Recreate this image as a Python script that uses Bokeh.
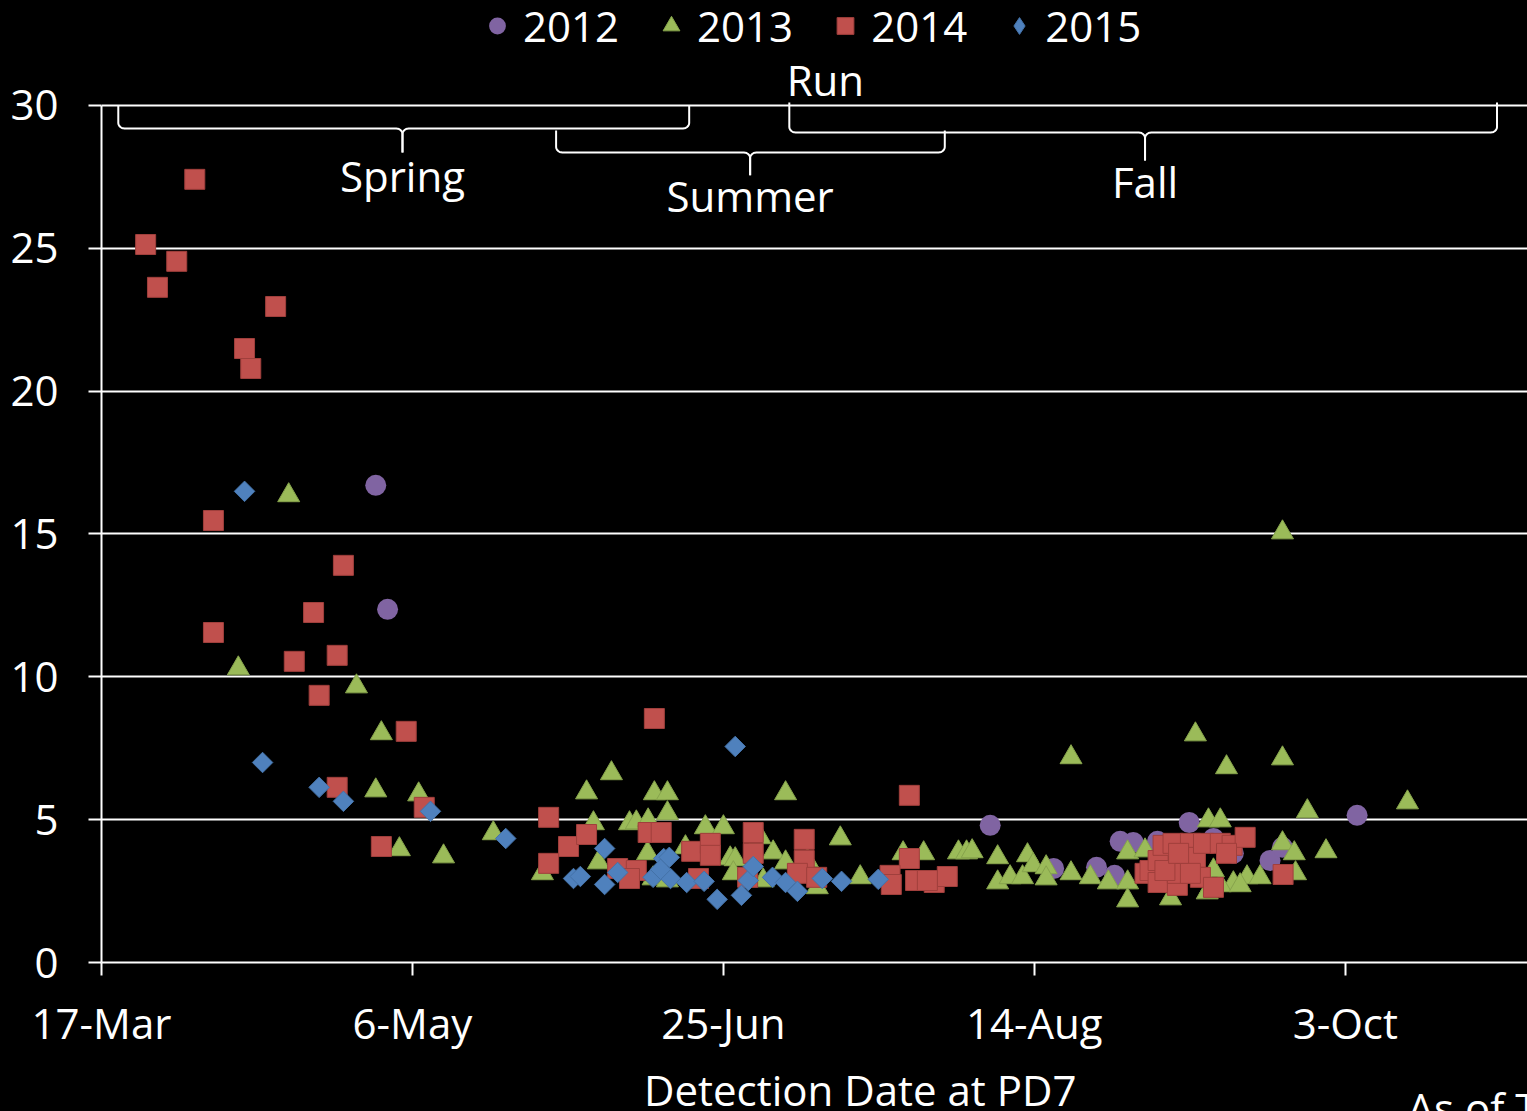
import numpy as np
from bokeh.plotting import figure
from bokeh.layouts import column
from bokeh.models import (FixedTicker, Legend, LegendItem, Label, Range1d,
                          GlobalInlineStyleSheet)
from bokeh.embed import file_html
from bokeh.resources import INLINE

# ---------------- data (x = day of year of detection at PD7) ----------------
tick_doy = [76, 126, 176, 226, 276]
tick_labels = ["17-Mar", "6-May", "25-Jun", "14-Aug", "3-Oct"]
y_ticks = [0, 5, 10, 15, 20, 25, 30]
series_names = ["2012", "2013", "2014", "2015"]

doy_2012 = [120.1, 122.0, 218.9, 229.1, 236.0, 238.9, 239.8, 241.9, 245.8, 250.9,
            254.8, 258.0, 263.9, 265.9, 277.9]
val_2012 = [16.70, 12.36, 4.80, 3.29, 3.33, 3.05, 4.24, 4.20, 4.24, 4.90,
            4.34, 3.82, 3.57, 4.03, 5.15]

doy_2013 = [106.1, 98.0, 117.0, 121.0, 120.1, 127.0, 123.9, 131.0, 139.0, 146.9,
            154.0, 158.0, 155.1, 155.9, 160.9, 162.0, 163.9, 164.9, 167.0, 167.0,
            163.8, 164.7, 167.0, 169.9, 173.1, 176.0, 177.1, 177.9, 177.6, 181.9,
            184.0, 186.0, 182.4, 186.0, 189.5, 191.1, 194.8, 198.0, 204.9, 208.2,
            213.8, 215.1, 216.0, 220.1, 220.1, 222.1, 224.1, 224.9, 225.8, 227.9,
            227.9, 231.9, 231.9, 235.0, 237.9, 241.0, 241.0, 241.0, 243.8, 247.9,
            251.9, 254.0, 255.9, 256.9, 265.9, 265.9, 269.9, 286.0, 265.9, 267.8,
            272.9, 268.0, 260.2, 262.3, 258.0, 254.3, 255.9, 254.8, 253.8, 259.1]
val_2013 = [16.35, 10.29, 9.66, 8.02, 6.02, 5.88, 3.96, 3.71, 4.52, 3.12,
            5.95, 6.62, 4.87, 3.50, 4.87, 4.90, 4.97, 5.92, 5.92, 5.22,
            3.82, 2.94, 2.87, 4.03, 4.73, 4.73, 3.64, 3.61, 3.12, 4.38,
            3.85, 3.50, 2.87, 5.92, 3.57, 2.63, 4.34, 2.98, 3.82, 3.82,
            3.85, 3.85, 3.89, 3.68, 2.80, 2.98, 2.98, 3.75, 3.40, 3.33,
            2.94, 7.18, 3.12, 2.98, 2.80, 3.85, 2.80, 2.17, 3.92, 2.24,
            7.98, 4.97, 4.97, 6.83, 15.05, 7.14, 5.29, 5.60, 4.17, 3.82,
            3.89, 3.12, 2.98, 2.98, 2.77, 2.63, 2.70, 3.22, 2.45, 2.70]

doy_2014 = [91.0, 83.1, 88.1, 85.0, 104.0, 99.0, 100.0, 94.0, 114.9, 110.1,
            94.0, 107.0, 113.9, 111.0, 125.0, 113.9, 127.9, 121.0,
            164.9, 147.9, 151.1, 154.0, 147.9, 159.0, 162.0, 160.9, 163.9, 166.0,
            170.9, 173.9, 173.9, 172.0, 180.8, 180.8, 179.9, 189.0, 189.0, 187.9, 191.0,
            205.9, 205.9, 202.8, 203.0, 206.9, 209.9, 212.0, 208.8,
            243.8, 244.6, 245.9, 245.9, 246.7, 248.3, 249.0, 249.0, 251.1, 251.9,
            252.7, 253.2, 254.8, 255.9, 257.8, 259.9, 266.0, 251.1, 247.0, 249.2, 256.9]
val_2014 = [27.41, 25.13, 24.54, 23.63, 22.96, 21.49, 20.79, 15.47, 13.90, 12.25,
            11.55, 10.54, 10.75, 9.35, 8.09, 6.13, 5.43, 4.06,
            8.54, 5.08, 4.06, 4.48, 3.47, 3.29, 3.22, 2.94, 4.55, 4.55,
            3.89, 4.17, 3.75, 2.94, 4.55, 3.82, 2.98, 4.31, 3.57, 3.12, 2.98,
            5.85, 3.64, 3.05, 2.73, 2.87, 2.80, 3.01, 2.87,
            3.12, 3.22, 2.80, 3.57, 4.10, 4.17, 2.70, 3.12, 4.17, 3.68,
            2.98, 4.17, 2.63, 4.17, 4.10, 4.38, 3.08, 3.12, 3.22, 3.82, 3.82]

doy_2015 = [99.0, 101.9, 111.0, 114.9, 128.9, 141.0, 151.9, 153.0, 156.9, 156.9,
            159.0, 164.7, 166.4, 167.3, 167.5, 165.9, 170.1, 172.9, 175.0, 177.9,
            178.9, 180.0, 180.8, 183.9, 186.0, 187.9, 191.9, 195.0, 200.9]
val_2015 = [16.49, 7.00, 6.13, 5.64, 5.29, 4.34, 2.94, 3.01, 3.99, 2.73,
            3.15, 2.98, 3.64, 3.68, 2.94, 3.26, 2.80, 2.84, 2.21, 7.56,
            2.35, 2.87, 3.36, 2.98, 2.80, 2.49, 2.94, 2.84, 2.91]

# run-timing groups (day-of-year spans shown by the braces)
season_names = ["Spring", "Summer", "Fall"]
season_start = [78.7, 149.1, 186.6]
season_end = [170.5, 211.6, 300.4]
season_mid = [124.4, 180.3, 243.8]

# ---------------- main figure ----------------
FONT = "Open Sans"
FS = "42px"
p = figure(frame_width=1426, frame_height=962,
           min_border_left=101, min_border_right=0, min_border_top=0, min_border_bottom=88,
           x_range=Range1d(76, 305.3), y_range=Range1d(0, 33.67),
           output_backend="svg", toolbar_location=None,
           background_fill_color="black", border_fill_color="black")
p.outline_line_color = None
p.xgrid.visible = False
p.ygrid.grid_line_color = "white"
p.ygrid.grid_line_width = 2
p.ygrid.ticker = FixedTicker(ticks=y_ticks)

for ax in (p.xaxis[0], p.yaxis[0]):
    ax.axis_line_color = "white"
    ax.axis_line_width = 2
    ax.major_tick_line_color = "white"
    ax.major_tick_line_width = 2
    ax.major_tick_out = 13
    ax.major_tick_in = 0
    ax.minor_tick_line_color = None
    ax.major_label_text_font = FONT
    ax.major_label_text_font_size = FS
    ax.major_label_text_color = "white"

p.yaxis[0].ticker = FixedTicker(ticks=y_ticks)
p.yaxis[0].bounds = (0, 30)
p.yaxis[0].major_label_standoff = 30
p.xaxis[0].ticker = FixedTicker(ticks=tick_doy)
p.xaxis[0].major_label_overrides = {d: l for d, l in zip(tick_doy, tick_labels)}
p.xaxis[0].major_label_standoff = 18

# ---------------- braces and run labels ----------------
def brace(x0, x1, xm, ytop, ybar, ytip, rx=1.0, ry=0.2):
    t = np.linspace(0, np.pi / 2, 8)
    lx = [x0] + list(x0 + rx - rx * np.cos(t)) + list(xm - rx + rx * np.sin(t)) + [xm]
    ly = [ytop] + list(ybar + ry - ry * np.sin(t)) + list(ybar - ry + ry * np.cos(t)) + [ytip]
    rxs = [x1] + list(x1 - rx + rx * np.cos(t)) + list(xm + rx - rx * np.sin(t)) + [xm]
    return [lx, rxs], [ly, ly]

brace_geom = [(30.0, 29.19, 28.35), (29.12, 28.35, 27.55), (30.1, 29.05, 28.07)]
label_y = [27.53, 26.83, 27.35]
for name, s, e, m, (yt, yb, ytip), ly in zip(season_names, season_start, season_end,
                                              season_mid, brace_geom, label_y):
    xs, ys = brace(s, e, m, yt, yb, ytip)
    p.multi_line(xs, ys, line_color="white", line_width=2)
    p.add_layout(Label(x=m, y=ly, text=name, text_align="center", text_baseline="middle",
                       text_font=FONT, text_font_size=FS, text_color="white"))

p.add_layout(Label(x=192.4, y=30.92, text="Run", text_align="center", text_baseline="middle",
                   text_font=FONT, text_font_size=FS, text_color="white"))

# ---------------- scatter series ----------------
r12 = p.scatter(doy_2012, val_2012, marker="circle", size=21,
                fill_color="#8064A2", line_color="#8064A2", line_width=0)
r13 = p.scatter(doy_2013, val_2013, marker="triangle", size=22,
                fill_color="#9BBB59", line_color="#86a34c", line_width=1)
r14 = p.scatter(doy_2014, val_2014, marker="square", size=20,
                fill_color="#C0504D", line_color="#a03f3c", line_width=1)
r15 = p.scatter(doy_2015, val_2015, marker="square", angle=np.pi / 4, size=14.5,
                fill_color="#4F81BD", line_color="#4472a8", line_width=1)
# hidden twin used only as the legend swatch (legend glyphs ignore marker rotation)
r15_key = p.scatter(doy_2015, val_2015, marker="diamond", size=20,
                    fill_color="#4F81BD", line_color="#4472a8", line_width=1,
                    visible=False)

legend = Legend(items=[LegendItem(label=n, renderers=[r])
                       for n, r in zip(series_names, [r12, r13, r14, r15_key])],
                orientation="horizontal", location=(375, 908.5),
                label_text_font=FONT, label_text_font_size=FS, label_text_color="white",
                glyph_width=42, glyph_height=57, label_standoff=5, spacing=31,
                padding=0, margin=0, background_fill_alpha=0, border_line_alpha=0,
                inactive_fill_alpha=0, click_policy="none")
p.add_layout(legend)

# ---------------- strip below the axis: axis title and note ----------------
p2 = figure(frame_width=1426, frame_height=61,
            min_border_left=101, min_border_right=0, min_border_top=0, min_border_bottom=0,
            x_range=p.x_range, y_range=Range1d(0, 61),
            x_axis_type=None, y_axis_type=None,
            output_backend="svg", toolbar_location=None,
            background_fill_color="black", border_fill_color="black")
p2.outline_line_color = None
p2.grid.visible = False
p2.add_layout(Label(x=198.0, y=25.5, text="Detection Date at PD7", text_align="center",
                    text_baseline="middle", text_font=FONT, text_font_size=FS,
                    text_color="white"))
p2.add_layout(Label(x=286.0, y=7.0, text="As of T", text_align="left",
                    text_baseline="middle", text_font=FONT, text_font_size=FS,
                    text_color="white"))

page = column(p, p2, spacing=0)
page.stylesheets = [GlobalInlineStyleSheet(css="html, body { background-color: #000000; }")]

open("out.html", "w").write(file_html(page, INLINE))
